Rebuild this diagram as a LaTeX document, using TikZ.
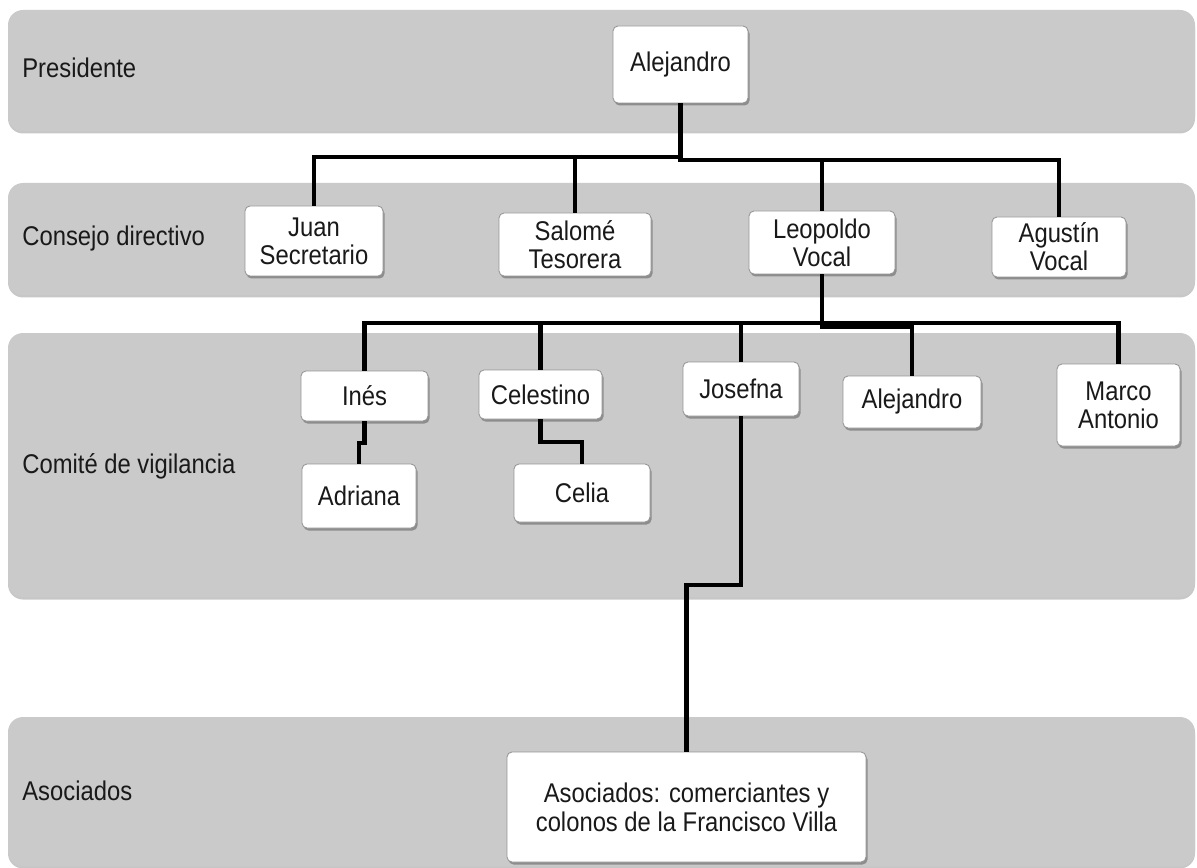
\documentclass[tikz,border=0pt]{standalone}
\usepackage{fontspec}
\setmainfont{Liberation Sans}[FakeStretch=0.88]
\usetikzlibrary{shadows}
\definecolor{bandgray}{RGB}{202,202,202}
\definecolor{boxline}{RGB}{150,150,150}
\definecolor{ink}{RGB}{25,25,25}
\begin{document}
\begin{tikzpicture}[x=0.02cm, y=-0.02cm,
  font=\fontsize{15.4pt}{16pt}\selectfont, text=ink,
  band/.style={fill=bandgray, draw=none, rounded corners=0.3cm,
    drop shadow={shadow xshift=0pt, shadow yshift=-0.05cm, fill=black, opacity=0.22}},
  bandlabel/.style={anchor=base west, inner sep=0pt},
  person/.style 2 args={draw=boxline, line width=0.5pt, fill=white,
    rounded corners=0.1cm, inner sep=0pt, align=center,
    minimum width=#1*0.02cm, minimum height=#2*0.02cm,
    drop shadow={shadow xshift=0.03cm, shadow yshift=-0.05cm, fill=black, opacity=0.3}},
  link/.style={draw=black, line width=0.09cm, line join=miter}]
\useasboundingbox (0,0) rectangle (1197,868);

% horizontal bands of the chart
\path[band] (8,10) rectangle (1195,131);
\path[band] (8,183) rectangle (1195,295);
\path[band] (8,333) rectangle (1195,597);
\path[band] (8,717) rectangle (1195,866);

\node[bandlabel] (lpres) at (22,78) {Presidente};
\node[bandlabel] (lcons) at (22,246) {Consejo directivo};
\node[bandlabel] (lcomi) at (22,473) {Comité de vigilancia};
\node[bandlabel] (lasoc) at (22,800) {Asociados};

% people
\node[person={135}{77}] (pres) at (680.5,64.5) {Alejandro};

\node[person={138}{70}] (juan) at (314,241) {Juan\\Secretario};
\node[person={152}{63}] (salome) at (575,244.5) {Salomé\\Tesorera};
\node[person={146}{63}] (leopoldo) at (822,242.5) {Leopoldo\\Vocal};
\node[person={134}{60}] (agustin) at (1059,247) {Agustín\\Vocal};

\node[person={127}{50}] (ines) at (364.5,396) {Inés};
\node[person={123}{49}] (celestino) at (540.5,394.5) {Celestino};
\node[person={116}{54}] (josefna) at (741,389) {Josefna};
\node[person={138}{52}] (alejandro) at (912,402) {Alejandro};
\node[person={123}{82}] (marco) at (1118.5,405) {Marco\\Antonio};
\node[person={114}{64}] (adriana) at (359,496) {Adriana};
\node[person={136}{58}] (celia) at (582,493) {Celia};

\node[person={359}{110}, font=\fontsize{15.4pt}{16.5pt}\selectfont] (asoc) at (686.5,807)
  {Asociados: comerciantes y\\colonos de la Francisco Villa};

% bus levels
\coordinate (busA) at (0,157);
\coordinate (busB) at (0,160);
\coordinate (busC) at (0,323);
\coordinate (busD) at (0,327);
\coordinate (jogI) at (0,443);
\coordinate (jogC) at (0,442);
\coordinate (jogJ) at (0,585);

% connectors
\draw[link] (pres.south) -- (pres.south |- busA) -| (juan.north);
\draw[link] (pres.south) -- (pres.south |- busA) -| (salome.north);
\draw[link] (pres.south) -- (pres.south |- busB) -| (leopoldo.north);
\draw[link] (pres.south) -- (pres.south |- busB) -| (agustin.north);

\draw[link] (leopoldo.south) -- (leopoldo.south |- busC) -| (ines.north);
\draw[link] (leopoldo.south) -- (leopoldo.south |- busC) -| (celestino.north);
\draw[link] (leopoldo.south) -- (leopoldo.south |- busC) -| (josefna.north);
\draw[link] (leopoldo.south) -- (leopoldo.south |- busD) -| (alejandro.north);
\draw[link] (leopoldo.south) -- (leopoldo.south |- busC) -| (marco.north);

\draw[link] (ines.south) -- (ines.south |- jogI) -| (adriana.north);
\draw[link] (celestino.south) -- (celestino.south |- jogC) -| (celia.north);
\draw[link] (josefna.south) -- (josefna.south |- jogJ) -| (asoc.north);
\end{tikzpicture}
\end{document}
